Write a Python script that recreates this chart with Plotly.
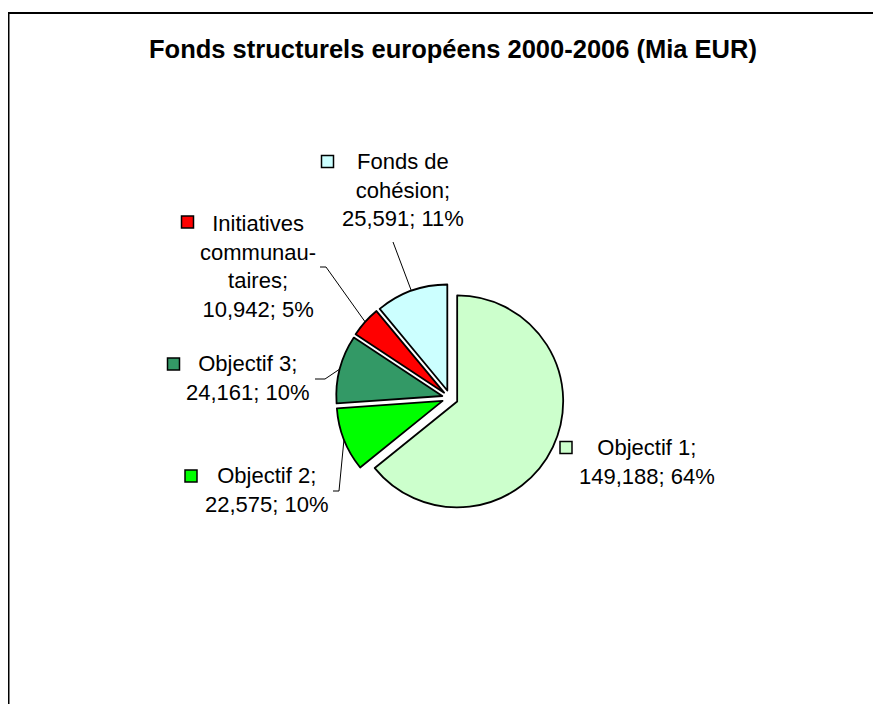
import math
import plotly.graph_objects as go

# ---- data ----
categories = ["Objectif 1", "Objectif 2", "Objectif 3", "Initiatives communautaires", "Fonds de cohésion"]
values = [149.188, 22.575, 24.161, 10.942, 25.591]
value_labels = ["149,188", "22,575", "24,161", "10,942", "25,591"]
pct_labels = ["64%", "10%", "10%", "5%", "11%"]
label_lines = [
    ["Objectif 1;"],
    ["Objectif 2;"],
    ["Objectif 3;"],
    ["Initiatives", "communau-", "taires;"],
    ["Fonds de", "cohésion;"],
]
colors = ["#CCFFCC", "#00FF00", "#339966", "#FF0000", "#CCFFFF"]
title_text = "Fonds structurels européens 2000-2006 (Mia EUR)"

# ---- layout geometry (page pixels; the figure sits 8px inside the page) ----
W, H = 881, 704
OFF = 8
CX, CY = 450, 398          # pie centre
R = 106                    # pie radius
PULL = 0.075
half = R * (1 + PULL)

def px(x):
    return (x - OFF) / W

def py(y):
    return 1 - (y - OFF) / H

FONT = "Liberation Sans, Arial, sans-serif"

fig = go.Figure(go.Pie(
    labels=categories,
    values=values,
    sort=False,
    direction="clockwise",
    rotation=0,
    pull=[PULL] * len(values),
    marker=dict(colors=colors, line=dict(color="black", width=1.8)),
    textinfo="none",
    showlegend=False,
    domain=dict(x=[px(CX - half), px(CX + half)], y=[py(CY + half), py(CY - half)]),
))

# label blocks: (text centre x, text centre y, key square centre x, key centre y)
label_pos = [
    (647, 461.5, 566, 447.5),
    (267, 490, 191, 476),
    (248, 377.5, 173.5, 364),
    (258, 266, 187.5, 222),
    (402.5, 190, 327.5, 161.5),
]
# leader lines: label-side start and elbow (None = no leader)
leaders = [
    None,
    ((333, 491), (339, 491)),
    ((315, 379), (325, 379)),
    ((320, 267), (326, 267)),
    ((393, 242), (396, 250)),
]

annotations = []
shapes = []
total = sum(values)
cum = 0
for i, v in enumerate(values):
    mid = (cum + v / 2) / total * 2 * math.pi
    cum += v
    dx, dy = math.sin(mid), -math.cos(mid)
    ax, ay = CX + half * dx, CY + half * dy

    tx, ty, kx, ky = label_pos[i]
    text = "<br>".join(label_lines[i] + [f"{value_labels[i]}; {pct_labels[i]}"])
    annotations.append(dict(
        x=px(tx), y=py(ty), xref="paper", yref="paper", text=text,
        showarrow=False, xanchor="center", yanchor="middle", align="center",
        font=dict(family=FONT, size=22, color="black"),
    ))
    s = 6
    shapes.append(dict(type="rect", xref="paper", yref="paper",
                       x0=px(kx - s), x1=px(kx + s), y0=py(ky + s), y1=py(ky - s),
                       fillcolor=colors[i], line=dict(color="black", width=1.5)))
    if leaders[i] is not None:
        (x0, y0), (x1, y1) = leaders[i]
        shapes.append(dict(type="path", xref="paper", yref="paper",
                           path=f"M {px(x0)},{py(y0)} L {px(x1)},{py(y1)} L {px(ax)},{py(ay)}",
                           line=dict(color="black", width=1)))

# title
annotations.append(dict(
    x=px(452.5), y=py(49), xref="paper", yref="paper", text=f"<b>{title_text}</b>",
    showarrow=False, xanchor="center", yanchor="middle",
    font=dict(family=FONT, size=25.5, color="black"),
))

# chart frame (top and left edges visible)
shapes.append(dict(type="line", xref="paper", yref="paper",
                   x0=0, x1=1.02, y0=py(13), y1=py(13), line=dict(color="black", width=2)))
shapes.append(dict(type="line", xref="paper", yref="paper",
                   x0=0, x1=0, y0=py(13), y1=-0.02, line=dict(color="black", width=3)))

fig.update_layout(
    width=W, height=H,
    margin=dict(l=0, r=0, t=0, b=0),
    paper_bgcolor="white", plot_bgcolor="white",
    annotations=annotations, shapes=shapes,
)

fig.write_html("out.html")
